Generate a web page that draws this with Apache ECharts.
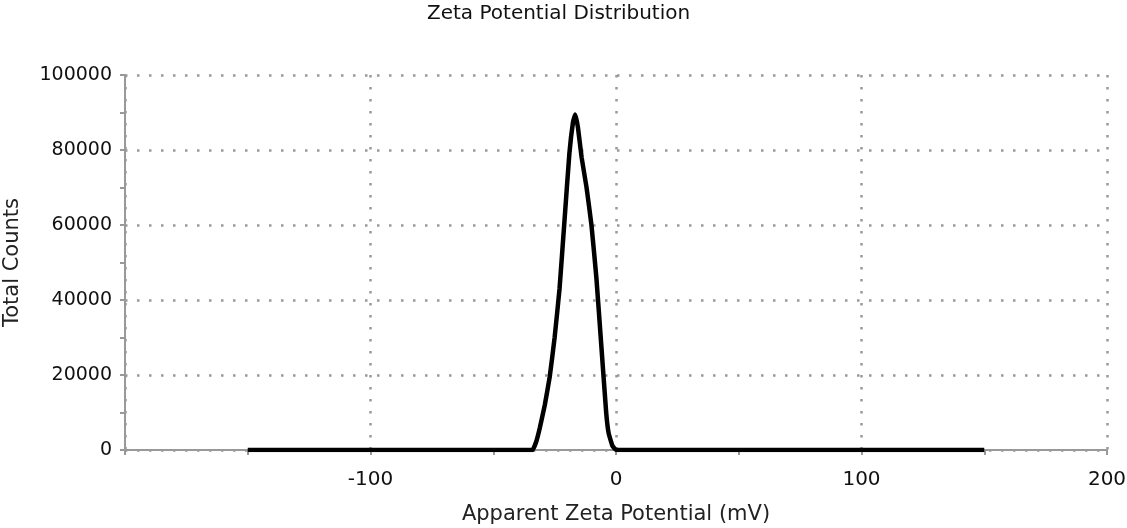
<!DOCTYPE html>
<html>
<head>
<meta charset="utf-8">
<script src="https://cdn.jsdelivr.net/npm/echarts@6/dist/echarts.min.js"></script>
<style>
  html, body { margin: 0; padding: 0; background: #fff; }
  #chart { width: 1127px; height: 528px; }
</style>
</head>
<body>
<div id="chart"></div>
<script>
// Zeta potential readings (mV) and total counts
const potential = [-150, -40, -34, -32.5, -31, -29, -27, -25, -23, -21, -19, -17.5, -16.6, -15.5, -14, -12, -10, -8, -6, -4, -3, -1.5, 0, 40, 150];
const counts = [0, 0, 0, 2200, 6000, 12000, 19500, 30000, 43000, 61000, 79000, 87500, 89500, 86000, 78000, 70000, 60000, 46000, 28000, 10000, 4500, 1200, 0, 0, 0];

const xTicks = [-200, -100, 0, 100, 200];

const chart = echarts.init(document.getElementById('chart'));

const font = 'DejaVu Sans, Verdana, sans-serif';
const gridLine = { show: true, lineStyle: { color: '#999', width: 2.5, type: [2.5, 9.5] } };

const option = {
  animation: false,
  backgroundColor: '#fff',
  title: {
    text: 'Zeta Potential Distribution',
    left: 422,
    top: -1,
    textStyle: { fontFamily: font, fontSize: 20, fontWeight: 'normal', color: '#111' }
  },
  grid: { left: 125, right: 20, top: 75, bottom: 78, outerBoundsMode: 'none' },
  xAxis: {
    type: 'value',
    min: xTicks[0],
    max: xTicks[xTicks.length - 1],
    interval: 100,
    name: 'Apparent Zeta Potential (mV)',
    nameLocation: 'middle',
    nameGap: 54,
    nameTextStyle: { fontFamily: font, fontSize: 21, color: '#222' },
    axisLine: { onZero: false, lineStyle: { color: '#999', width: 2 } },
    axisTick: { show: true, length: 5, lineStyle: { color: '#999', width: 2 } },
    minorTick: { show: true, splitNumber: 2, length: 5, lineStyle: { color: '#999', width: 2 } },
    axisLabel: {
      fontFamily: font, fontSize: 20, color: '#111', margin: 20,
      formatter: v => (v === xTicks[0] ? '' : String(v))
    },
    splitLine: gridLine
  },
  yAxis: {
    type: 'value',
    min: 0,
    max: 100000,
    interval: 20000,
    name: 'Total Counts',
    nameLocation: 'middle',
    nameGap: 102,
    nameTextStyle: { fontFamily: font, fontSize: 21, color: '#222' },
    axisLine: { show: true, onZero: false, lineStyle: { color: '#999', width: 2 } },
    axisTick: { show: true, length: 5, lineStyle: { color: '#999', width: 2 } },
    minorTick: { show: true, splitNumber: 2, length: 5, lineStyle: { color: '#999', width: 2 } },
    axisLabel: { fontFamily: font, fontSize: 19, color: '#111', margin: 13, formatter: v => String(v) },
    splitLine: gridLine
  },
  series: [{
    type: 'line',
    data: potential.map((p, i) => [p, counts[i]]),
    showSymbol: false,
    smooth: 0.1,
    lineStyle: { color: '#000', width: 4.5 },
    z: 5
  }]
};

chart.setOption(option);
</script>
</body>
</html>
